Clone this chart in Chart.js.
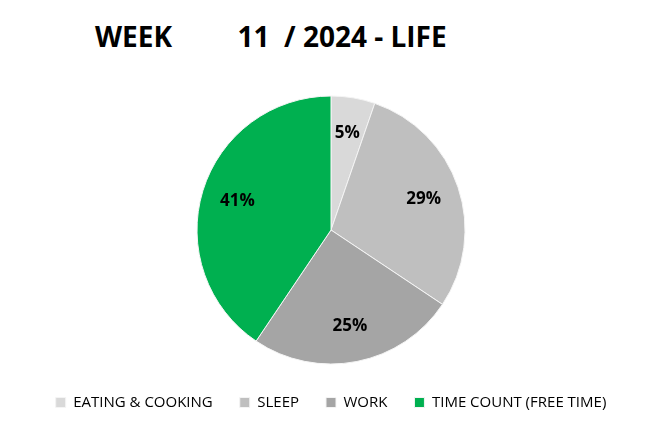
<!DOCTYPE html>
<html>
<head>
<meta charset="utf-8">
<script src="https://cdn.jsdelivr.net/npm/chart.js@4"></script>
<style>
  html, body { margin: 0; padding: 0; background: #fff; }
  #wrap { position: relative; width: 646px; height: 436px; }
  #title {
    position: absolute; left: 95px; top: 17px; margin: 0;
    font: bold 28px "Open Sans", "Liberation Sans", sans-serif;
    color: #000; white-space: pre;
  }
  canvas { position: absolute; left: 0; top: 0; }
</style>
</head>
<body>
<div id="wrap">
  <h1 id="title">WEEK         11  / 2024 - LIFE</h1>
  <canvas id="chart" width="646" height="436"></canvas>
</div>
<script>
// Week 11 / 2024 — life split (share of the week)
const CATEGORIES = ['EATING & COOKING', 'SLEEP', 'WORK', 'TIME COUNT (FREE TIME)'];
const SHARES     = [5.3, 29.1, 25.1, 40.6];
const COLORS     = ['#d9d9d9', '#bfbfbf', '#a5a5a5', '#00b050'];

// draws the % value inside each slice
const sliceLabels = {
  id: 'sliceLabels',
  afterDatasetsDraw(chart) {
    const { ctx } = chart;
    const meta = chart.getDatasetMeta(0);
    const total = SHARES.reduce((a, b) => a + b, 0);
    ctx.save();
    ctx.font = 'bold 17px "Open Sans", "Liberation Sans", sans-serif';
    ctx.fillStyle = '#000';
    ctx.textAlign = 'center';
    ctx.textBaseline = 'middle';
    meta.data.forEach((arc, i) => {
      const mid = (arc.startAngle + arc.endAngle) / 2;
      const r = arc.outerRadius * 0.73;
      const x = arc.x + Math.cos(mid) * r;
      const y = arc.y + Math.sin(mid) * r;
      ctx.fillText(Math.round(SHARES[i] / total * 100) + '%', x, y);
    });
    ctx.restore();
  }
};

new Chart(document.getElementById('chart'), {
  type: 'pie',
  data: {
    labels: CATEGORIES,
    datasets: [{
      data: SHARES,
      backgroundColor: COLORS,
      borderColor: '#f4f4f4',
      borderWidth: 1,
      radius: 134,
    }]
  },
  options: {
    animation: false, responsive: false,
    layout: { padding: { top: 92, bottom: 16, left: 16, right: 0 } },
    plugins: {
      legend: {
        position: 'bottom',
        labels: {
          boxWidth: 10, boxHeight: 10, padding: 27, color: '#000',
          font: { size: 15, family: '"Open Sans", "Liberation Sans", sans-serif' },
        },
      },
      tooltip: { enabled: false },
    },
  },
  plugins: [sliceLabels],
});
</script>
</body>
</html>
